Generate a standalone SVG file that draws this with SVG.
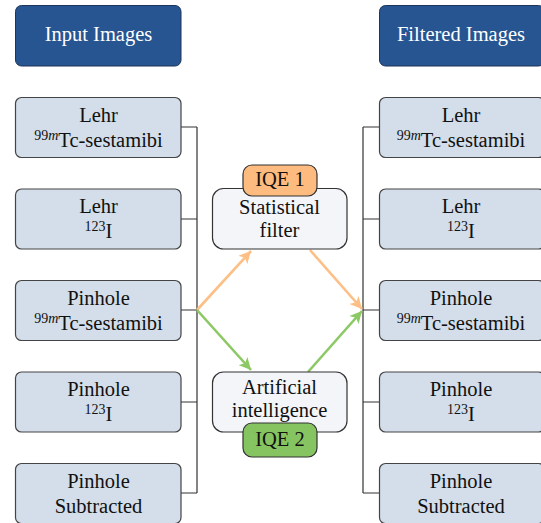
<svg xmlns="http://www.w3.org/2000/svg" width="541" height="523" viewBox="0 0 541 523">
<style>
text{fill:#111;text-anchor:middle}
.hdr rect{fill:#265592;stroke:#1c3558;stroke-width:1}
.hdr text{fill:#fff}
.img rect{fill:#d3deea;stroke:#444;stroke-width:1.2}
.proc rect{fill:#f3f5f9;stroke:#333;stroke-width:1.2}
.tag1 rect{fill:#fdbb7f;stroke:#333;stroke-width:1.2}
.tag2 rect{fill:#86c462;stroke:#333;stroke-width:1.2}
.bus{fill:none;stroke:#333;stroke-width:1.2}
.or{stroke:#fdbf86;stroke-width:2.6;fill:none}
.gr{stroke:#8cc864;stroke-width:2.6;fill:none}
</style>
<defs>
<marker id="ao" markerUnits="userSpaceOnUse" markerWidth="14" markerHeight="12" refX="12" refY="6" orient="auto"><path d="M0,0 L12,6 L0,12 L3,6 Z" fill="#fdbf86"/></marker>
<marker id="ag" markerUnits="userSpaceOnUse" markerWidth="14" markerHeight="12" refX="12" refY="6" orient="auto"><path d="M0,0 L12,6 L0,12 L3,6 Z" fill="#8cc864"/></marker>
</defs>
<rect width="541" height="523" fill="#fff"/>

<g id="connectors">
<path class="bus" d="M181,127 H197 M181,219 H197 M181,310 H197 M181,402 H197 M181,493 H197 M197,127 V493"/>
<path class="bus" d="M379,127 H363 M379,219 H363 M379,310 H363 M379,402 H363 M379,493 H363 M363,127 V493"/>
<line class="or" x1="197" y1="310" x2="251" y2="251" marker-end="url(#ao)"/>
<line class="or" x1="310" y1="250" x2="362" y2="309" marker-end="url(#ao)"/>
<line class="gr" x1="197" y1="310" x2="251" y2="370" marker-end="url(#ag)"/>
<line class="gr" x1="308" y1="372" x2="362" y2="311" marker-end="url(#ag)"/>
</g>

<g id="hdr-input" class="hdr"><rect x="15.5" y="5.5" width="165.5" height="60.5" rx="6"/><text x="98.5" y="41" font-family="Liberation Serif" font-size="20.5">Input Images</text></g>
<g id="hdr-filtered" class="hdr"><rect x="379.5" y="5.5" width="165" height="60.5" rx="6"/><text x="461" y="41" font-family="Liberation Serif" font-size="20.5">Filtered Images</text></g>

<g id="in-lehr-tc" class="img"><rect x="15.5" y="97.5" width="165.5" height="60" rx="6"/><text x="98.5" y="122" font-family="Liberation Serif" font-size="20.5">Lehr</text><text x="98.5" y="147" font-family="Liberation Serif" font-size="20.5"><tspan font-size="14" dy="-7">99</tspan><tspan font-size="14" font-style="italic">m</tspan><tspan dy="7">Tc-sestamibi</tspan></text></g>
<g id="in-lehr-i" class="img"><rect x="15.5" y="189" width="165.5" height="60" rx="6"/><text x="98.5" y="213" font-family="Liberation Serif" font-size="20.5">Lehr</text><text x="98.5" y="238" font-family="Liberation Serif" font-size="20.5"><tspan font-size="14" dy="-7">123</tspan><tspan dy="7">I</tspan></text></g>
<g id="in-pin-tc" class="img"><rect x="15.5" y="280.5" width="165.5" height="60" rx="6"/><text x="98.5" y="305" font-family="Liberation Serif" font-size="20.5">Pinhole</text><text x="98.5" y="330" font-family="Liberation Serif" font-size="20.5"><tspan font-size="14" dy="-7">99</tspan><tspan font-size="14" font-style="italic">m</tspan><tspan dy="7">Tc-sestamibi</tspan></text></g>
<g id="in-pin-i" class="img"><rect x="15.5" y="372" width="165.5" height="60" rx="6"/><text x="98.5" y="396" font-family="Liberation Serif" font-size="20.5">Pinhole</text><text x="98.5" y="421" font-family="Liberation Serif" font-size="20.5"><tspan font-size="14" dy="-7">123</tspan><tspan dy="7">I</tspan></text></g>
<g id="in-pin-sub" class="img"><rect x="15.5" y="463.5" width="165.5" height="60" rx="6"/><text x="98.5" y="488" font-family="Liberation Serif" font-size="20.5">Pinhole</text><text x="98.5" y="513" font-family="Liberation Serif" font-size="20.5">Subtracted</text></g>

<g id="out-lehr-tc" class="img"><rect x="379.5" y="97.5" width="165" height="60" rx="6"/><text x="461" y="122" font-family="Liberation Serif" font-size="20.5">Lehr</text><text x="461" y="147" font-family="Liberation Serif" font-size="20.5"><tspan font-size="14" dy="-7">99</tspan><tspan font-size="14" font-style="italic">m</tspan><tspan dy="7">Tc-sestamibi</tspan></text></g>
<g id="out-lehr-i" class="img"><rect x="379.5" y="189" width="165" height="60" rx="6"/><text x="461" y="213" font-family="Liberation Serif" font-size="20.5">Lehr</text><text x="461" y="238" font-family="Liberation Serif" font-size="20.5"><tspan font-size="14" dy="-7">123</tspan><tspan dy="7">I</tspan></text></g>
<g id="out-pin-tc" class="img"><rect x="379.5" y="280.5" width="165" height="60" rx="6"/><text x="461" y="305" font-family="Liberation Serif" font-size="20.5">Pinhole</text><text x="461" y="330" font-family="Liberation Serif" font-size="20.5"><tspan font-size="14" dy="-7">99</tspan><tspan font-size="14" font-style="italic">m</tspan><tspan dy="7">Tc-sestamibi</tspan></text></g>
<g id="out-pin-i" class="img"><rect x="379.5" y="372" width="165" height="60" rx="6"/><text x="461" y="396" font-family="Liberation Serif" font-size="20.5">Pinhole</text><text x="461" y="421" font-family="Liberation Serif" font-size="20.5"><tspan font-size="14" dy="-7">123</tspan><tspan dy="7">I</tspan></text></g>
<g id="out-pin-sub" class="img"><rect x="379.5" y="463.5" width="165" height="60" rx="6"/><text x="461" y="488" font-family="Liberation Serif" font-size="20.5">Pinhole</text><text x="461" y="513" font-family="Liberation Serif" font-size="20.5">Subtracted</text></g>

<g id="stat-filter" class="proc"><rect x="212.5" y="188.5" width="134.5" height="60.5" rx="11"/><text x="279.5" y="214" font-family="Liberation Serif" font-size="20.5">Statistical</text><text x="279.5" y="237" font-family="Liberation Serif" font-size="20.5">filter</text></g>
<g id="iqe1" class="tag1"><rect x="243" y="165" width="74" height="31" rx="9"/><text x="280" y="186" font-family="Liberation Serif" font-size="20.5">IQE 1</text></g>
<g id="ai" class="proc"><rect x="212.5" y="372" width="134.5" height="60" rx="11"/><text x="279.5" y="394" font-family="Liberation Serif" font-size="20.5">Artificial</text><text x="279.5" y="417" font-family="Liberation Serif" font-size="20.5">intelligence</text></g>
<g id="iqe2" class="tag2"><rect x="243" y="423" width="74" height="34" rx="9"/><text x="280" y="446" font-family="Liberation Serif" font-size="20.5">IQE 2</text></g>
</svg>
